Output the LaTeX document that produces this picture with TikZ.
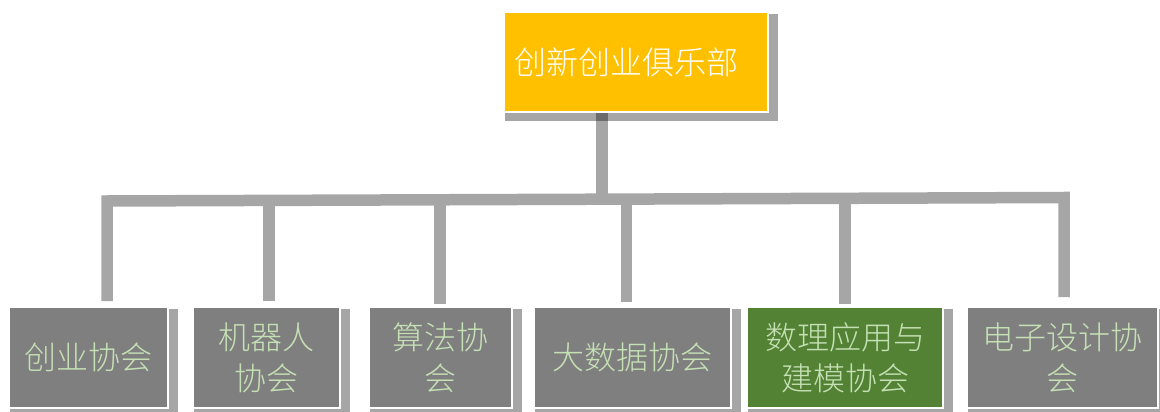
\documentclass[tikz,border=0pt]{standalone}
\usepackage{fontspec}
\IfFontExistsTF{Noto Sans CJK SC Light}
  {\newfontfamily\cjk{Noto Sans CJK SC Light}}
  {\newfontfamily\cjk{Noto Sans CJK SC}}
\usetikzlibrary{backgrounds}
\definecolor{gold}{HTML}{FFC000}
\definecolor{boxgray}{HTML}{7F7F7F}
\definecolor{boxgreen}{HTML}{548235}
\definecolor{palegreen}{HTML}{C5E0B4}
\definecolor{linegray}{HTML}{A6A6A6}
\begin{document}
\begin{tikzpicture}[x=1pt,y=-1pt,
  box/.style={rectangle, draw=white, line width=1.2pt, minimum height=101pt, inner sep=0pt, align=center, font=\cjk\fontsize{32}{41}\selectfont, text=palegreen},
  graybox/.style={box, fill=boxgray},
  greenbox/.style={box, fill=boxgreen},
  topbox/.style={rectangle, draw=white, line width=1.2pt, fill=gold, minimum width=264pt, minimum height=100pt, inner sep=0pt, text=white, font=\cjk\fontsize{32}{41}\selectfont},
  conn/.style={draw=linegray, line width=11.5pt, line cap=butt, line join=miter},
  shadowbox/.style={fill=black, opacity=0.35}]
\useasboundingbox (0,0) rectangle (1160,412);
% nodes
\node[topbox] (top) at (636,62) {\hspace*{-20pt}创新创业俱乐部};
\node[graybox, minimum width=159pt] (c1) at (88.5,357.5) {创业协会};
\node[graybox, minimum width=147pt] (c2) at (266.5,357.5) {机器人\\协会};
\node[graybox, minimum width=143pt] (c3) at (440.5,357.5) {算法协\\会};
\node[graybox, minimum width=197pt] (c4) at (632.5,357.5) {大数据协会};
\node[greenbox, minimum width=196pt] (c5) at (845,357.5) {数理应用与\\建模协会};
\node[graybox, minimum width=191pt] (c6) at (1062.5,357.5) {电子设计协\\会};
% connector points
\coordinate (bt) at (602,199.2);
\coordinate (b1) at (107,201);
\coordinate (b2) at (269,200.4);
\coordinate (b3) at (440,199.8);
\coordinate (b4) at (626.5,199.1);
\coordinate (b5) at (845,198.3);
\coordinate (b6) at (1064,197.5);
\coordinate (e1) at (107,301);
\coordinate (e2) at (269,301);
\coordinate (e3) at (440,304);
\coordinate (e4) at (626.5,302);
\coordinate (e5) at (845,304);
\coordinate (e6) at (1064,297);
\begin{scope}[on background layer]
  \fill[white] (0,0) rectangle (1160,412);
  \draw[conn] ([xshift=-34pt]top.south) -- (bt);
  \draw[conn] (e1) -- (b1) -- (b6) -- (e6);
  \draw[conn] (e2) -- (b2);
  \draw[conn] (e3) -- (b3);
  \draw[conn] (e4) -- (b4);
  \draw[conn] (e5) -- (b5);
  \foreach \n in {top,c1,c2,c3,c4,c5,c6}
    \fill[shadowbox] ([shift={(2,2.5)}]\n.north west) rectangle ([shift={(9,8.5)}]\n.south east);
\end{scope}
\end{tikzpicture}
\end{document}
